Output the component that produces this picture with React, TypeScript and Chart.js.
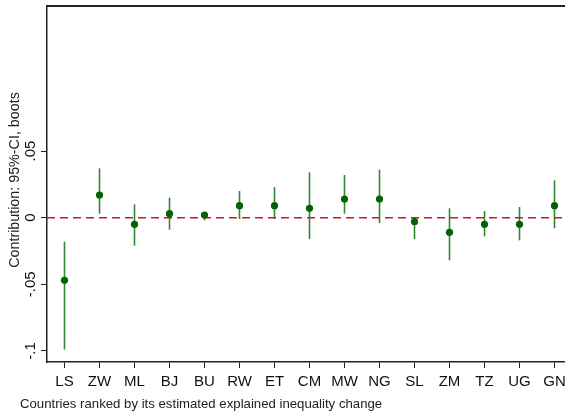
import React, { useEffect, useRef } from 'react';
import { Chart, registerables } from 'chart.js';
Chart.register(...registerables);

const categories = ['LS', 'ZW', 'ML', 'BJ', 'BU', 'RW', 'ET', 'CM', 'MW', 'NG', 'SL', 'ZM', 'TZ', 'UG', 'GN'];
const estimates = [-0.047, 0.017, -0.005, 0.003, 0.002, 0.009, 0.009, 0.007, 0.014, 0.014, -0.003, -0.011, -0.005, -0.005, 0.009];
const ciLow = [-0.099, 0.003, -0.021, -0.009, -0.002, -0.001, -0.001, -0.016, 0.003, -0.004, -0.016, -0.032, -0.014, -0.017, -0.008];
const ciHigh = [-0.018, 0.037, 0.010, 0.015, 0.004, 0.020, 0.023, 0.034, 0.032, 0.036, 0.0005, 0.007, 0.005, 0.008, 0.028];
const yTickValues = [-0.1, -0.05, 0, 0.05];
const yTickLabels = ['-.1', '-.05', '0', '.05'];
const yTitle = 'Contribution: 95%-CI, boots';
const xTitle = 'Countries ranked by its estimated explained inequality change';

const FONT = '"Liberation Sans", Arial, sans-serif';

export default function App() {
  const ref = useRef<HTMLCanvasElement>(null);
  useEffect(() => {
    if (!ref.current) return;
    const xs = categories.map((_, i) => i + 1);
    const plugin = {
      id: 'statadecor',
      beforeDatasetsDraw(chart: any) {
        const { ctx, scales, chartArea } = chart;
        const x = scales.x, y = scales.y;
        ctx.save();
        ctx.strokeStyle = 'rgba(0,105,0,0.8)';
        ctx.lineWidth = 1.6;
        xs.forEach((xv, i) => {
          const px = x.getPixelForValue(xv);
          ctx.beginPath();
          ctx.moveTo(px, y.getPixelForValue(ciLow[i]));
          ctx.lineTo(px, y.getPixelForValue(ciHigh[i]));
          ctx.stroke();
        });
        const y0 = y.getPixelForValue(0);
        ctx.strokeStyle = '#c8153c';
        ctx.lineWidth = 1.5;
        ctx.setLineDash([8, 5]);
        ctx.beginPath();
        ctx.moveTo(chartArea.left, y0);
        ctx.lineTo(chartArea.right, y0);
        ctx.stroke();
        ctx.restore();
      },
      afterDraw(chart: any) {
        const { ctx, scales, chartArea } = chart;
        const y = scales.y;
        ctx.save();
        ctx.strokeStyle = '#222';
        ctx.lineWidth = 2;
        ctx.beginPath();
        ctx.moveTo(chartArea.left - 1, chartArea.top);
        ctx.lineTo(chartArea.right, chartArea.top);
        ctx.stroke();
        ctx.fillStyle = '#111';
        ctx.font = `15px ${FONT}`;
        ctx.textAlign = 'center';
        ctx.textBaseline = 'middle';
        yTickValues.forEach((v, i) => {
          const py = y.getPixelForValue(v);
          ctx.save();
          ctx.translate(31, py);
          ctx.rotate(-Math.PI / 2);
          ctx.fillText(yTickLabels[i], 0, 0);
          ctx.restore();
        });
        ctx.fillStyle = '#222';
        ctx.save();
        ctx.font = `14.3px ${FONT}`;
        ctx.translate(15, 180);
        ctx.rotate(-Math.PI / 2);
        ctx.textAlign = 'center';
        ctx.textBaseline = 'middle';
        ctx.fillText(yTitle, 0, 0);
        ctx.restore();
        ctx.font = `13.2px ${FONT}`;
        ctx.textAlign = 'left';
        ctx.textBaseline = 'middle';
        ctx.fillText(xTitle, 20, 404);
        ctx.restore();
      },
    };
    const chart = new Chart(ref.current, {
      type: 'scatter',
      data: {
        datasets: [
          {
            data: xs.map((xv, i) => ({ x: xv, y: estimates[i] })),
            backgroundColor: '#006400',
            borderWidth: 0,
            pointRadius: 3.6,
          },
        ],
      },
      options: {
        responsive: false,
        animation: false,
        layout: { autoPadding: false, padding: { top: 6, left: 0, right: 0, bottom: 0 } },
        plugins: { legend: { display: false }, tooltip: { enabled: false } },
        scales: {
          x: {
            type: 'linear',
            min: 0.5,
            max: 15.3,
            afterBuildTicks: (s: any) => {
              s.ticks = xs.map((v) => ({ value: v }));
            },
            afterFit: (s: any) => {
              s.height = 54;
              s.paddingLeft = 0;
              s.paddingRight = 0;
            },
            border: { display: true, color: '#222', width: 1.5 },
            grid: { drawOnChartArea: false, drawTicks: true, tickLength: 6, color: '#222', lineWidth: 1 },
            ticks: {
              autoSkip: false,
              maxRotation: 0,
              padding: 5,
              color: '#111',
              font: { family: FONT, size: 15 },
              callback: (v: any) => categories[Math.round(v) - 1] ?? '',
            },
          },
          y: {
            type: 'linear',
            min: -0.1083,
            max: 0.1588,
            afterBuildTicks: (s: any) => {
              s.ticks = yTickValues.map((v) => ({ value: v }));
            },
            afterFit: (s: any) => {
              s.width = 47;
              s.paddingTop = 0;
              s.paddingBottom = 0;
            },
            border: { display: true, color: '#222', width: 1.5 },
            grid: { drawOnChartArea: false, drawTicks: true, tickLength: 6, color: '#222', lineWidth: 1 },
            ticks: { display: false },
          },
        },
      },
      plugins: [plugin],
    });
    return () => chart.destroy();
  }, []);
  return (
    <div style={{ position: 'fixed', left: 0, top: 0, width: 565, height: 416, background: '#fff', overflow: 'hidden' }}>
      <canvas ref={ref} width={565} height={416} />
    </div>
  );
}
